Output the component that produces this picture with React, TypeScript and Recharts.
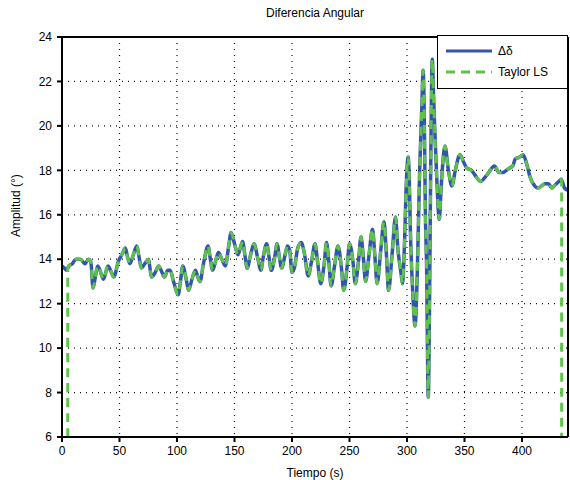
import { CartesianGrid, Legend, Line, LineChart, XAxis, YAxis } from "recharts";

// time (s) and angle difference (deg)
const time = [
  0, 2, 4, 6, 9, 12, 16, 20, 23, 25, 27, 29, 31, 33, 36, 40, 43, 45, 49, 53, 55, 57, 59, 62, 65, 67, 69, 72, 75, 78,
  81, 84, 87, 89, 92, 94, 97, 101, 103, 105, 108, 110, 113, 116, 118, 120, 123, 127, 129, 131, 134, 136, 139, 142,
  145, 147, 150, 153, 155, 157, 159, 161, 164, 167, 170, 173, 175, 178, 180, 182, 185, 187, 189, 191, 194, 196, 198,
  200, 202, 205, 208, 211, 214, 217, 220, 222, 225, 228, 230, 232, 234, 237, 240, 243, 245, 248, 250, 253, 255, 258,
  260, 262, 264, 267, 270, 272, 274, 277, 280, 282, 284, 287, 290, 292, 295, 296, 298, 299, 301, 302, 303, 305, 307,
  309, 311, 313, 314, 315, 316, 317, 318.5, 319.5, 320.5, 322, 323, 324, 326, 328, 330, 333, 336, 339, 342, 346, 349,
  352, 356, 359, 364, 368, 371, 376, 380, 383, 389, 392, 394, 398, 401, 404, 407, 411, 414, 417, 420, 423, 426, 428,
  432, 434, 437, 440,
];
const delta = [
  13.7, 13.6, 13.5, 13.7, 13.8, 14.0, 14.0, 13.8, 14.0, 13.9, 12.7, 13.2, 13.7, 13.5, 13.1, 13.7, 13.4, 13.2, 13.9,
  14.3, 14.5, 14.1, 13.8, 14.2, 14.6, 14.1, 13.6, 13.8, 14.0, 13.2, 13.4, 13.7, 13.4, 13.2, 13.5, 13.5, 13.0, 12.4,
  13.0, 13.7, 13.1, 12.6, 13.1, 13.5, 13.2, 13.0, 13.8, 14.6, 14.0, 13.5, 14.0, 14.3, 14.0, 13.7, 14.6, 15.2, 14.7,
  14.2, 14.5, 14.8, 14.2, 13.6, 14.2, 14.7, 14.1, 13.5, 14.1, 14.7, 14.1, 13.5, 14.1, 14.7, 14.1, 13.6, 14.2, 14.6,
  14.4, 13.4, 13.6, 14.5, 14.75, 14.2, 13.25, 13.9, 14.7, 14.0, 12.9, 13.8, 14.75, 13.9, 12.8, 13.7, 14.6, 13.6, 12.6,
  13.7, 14.7, 13.9, 12.9, 14.0, 15.0, 14.1, 13.0, 14.2, 15.35, 14.2, 12.9, 14.3, 15.7, 14.3, 12.6, 14.2, 15.9, 14.5,
  13.3, 12.9, 15.0, 16.8, 18.6, 17.5, 15.2, 12.5, 11.0, 13.5, 18.0, 21.0, 22.5, 20.5, 16.0, 13.8, 7.8, 11.5, 17.5,
  23.0, 21.5, 20.0, 17.5, 15.8, 17.5, 19.1, 18.0, 17.3, 18.0, 18.7, 18.4, 18.1, 18.0, 17.8, 17.5, 17.7, 17.9, 18.2,
  17.9, 17.9, 18.1, 18.2, 18.5, 18.6, 18.7, 18.3, 17.7, 17.3, 17.2, 17.3, 17.4, 17.4, 17.2, 17.3, 17.5, 17.6, 17.2,
  17.1,
];

// the Taylor LS estimate follows the same trace, but rises from / drops to the axis floor
const taylorStartTime = [5, 5];
const taylorStartValue = [6, 13.6];
const taylorEndTime = [434.5, 434.5];
const taylorEndValue = [17.5, 6];

const xTicks = [0, 50, 100, 150, 200, 250, 300, 350, 400];
const yTicks = [6, 8, 10, 12, 14, 16, 18, 20, 22, 24];

const BLUE = "#3553b0";
const GREEN = "#5fc34a";
const FONT = "'Liberation Sans', Arial, sans-serif";

const deltaData = time.map((t, i) => ({ t, v: delta[i] }));
const taylorData = [
  ...taylorStartTime.map((t, i) => ({ t, v: taylorStartValue[i] })),
  ...deltaData.filter((d) => d.t > taylorStartTime[0] && d.t < taylorEndTime[0]),
  ...taylorEndTime.map((t, i) => ({ t, v: taylorEndValue[i] })),
];

function LegendBox() {
  const row = (label: string, color: string, dash?: string) => (
    <div style={{ display: "flex", alignItems: "center", height: 21 }}>
      <svg width={50} height={6} style={{ marginRight: 4 }}>
        <line x1={2} y1={3} x2={48} y2={3} stroke={color} strokeWidth={3} strokeDasharray={dash} />
      </svg>
      <span style={{ fontSize: 12, color: "#000" }}>{label}</span>
    </div>
  );
  return (
    <div
      style={{
        border: "1.5px solid #000",
        background: "#fff",
        padding: "4px 6px 4px 6px",
        boxSizing: "border-box",
        height: 54,
        fontFamily: FONT,
      }}
    >
      {row("Δδ", BLUE)}
      {row("Taylor LS", GREEN, "9 6")}
    </div>
  );
}

export default function App() {
  return (
    <div style={{ position: "absolute", left: 0, top: 0, background: "#fff" }}>
      <LineChart
        width={570}
        height={480}
        margin={{ top: 0, right: 0, bottom: 0, left: 0 }}
        style={{ fontFamily: FONT }}
      >
        <CartesianGrid stroke="#111" strokeDasharray="1 5" strokeWidth={1.2} />
        <XAxis
          dataKey="t"
          type="number"
          domain={[0, 440]}
          ticks={xTicks}
          allowDataOverflow
          height={43}
          stroke="#000"
          strokeWidth={2}
          tickSize={5}
          tickMargin={4}
          tick={{ fill: "#000", fontSize: 12 }}
          label={{ value: "Tiempo (s)", position: "insideBottom", offset: 3, fill: "#000", fontSize: 12 }}
        />
        <XAxis
          xAxisId="top"
          orientation="top"
          dataKey="t"
          type="number"
          domain={[0, 440]}
          ticks={xTicks}
          height={37}
          stroke="#000"
          strokeWidth={2}
          tickSize={5}
          tickFormatter={() => ""}
          label={{ value: "Diferencia Angular", position: "insideTop", offset: 8, fill: "#000", fontSize: 12 }}
        />
        <YAxis
          type="number"
          domain={[6, 24]}
          ticks={yTicks}
          allowDataOverflow
          width={62}
          stroke="#000"
          strokeWidth={2}
          tickSize={5}
          tickMargin={5}
          tick={{ fill: "#000", fontSize: 12 }}
          label={{ value: "Amplitud (°)", angle: -90, position: "insideLeft", offset: 16, fill: "#000", fontSize: 12 }}
        />
        <YAxis
          yAxisId="right"
          orientation="right"
          type="number"
          domain={[6, 24]}
          ticks={yTicks}
          width={2}
          stroke="#000"
          strokeWidth={2}
          tickSize={5}
          tickFormatter={() => ""}
        />
        <Line
          data={deltaData}
          dataKey="v"
          type="monotone"
          stroke={BLUE}
          strokeWidth={3.5}
          dot={false}
          isAnimationActive={false}
        />
        <Line
          data={taylorData}
          dataKey="v"
          type="monotone"
          stroke={GREEN}
          strokeWidth={3}
          strokeDasharray="9 6"
          dot={false}
          isAnimationActive={false}
        />
        <Legend
          layout="horizontal"
          verticalAlign="middle"
          align="center"
          content={() => <LegendBox />}
          wrapperStyle={{ top: 35, left: 437, width: 131, height: 54 }}
        />
      </LineChart>
    </div>
  );
}
